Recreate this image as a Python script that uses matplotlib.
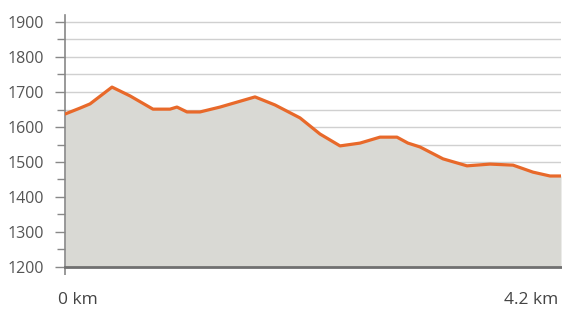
import matplotlib.pyplot as plt
import numpy as np

# elevation profile (km, m)
dist_km = [0.0, 0.127, 0.212, 0.398, 0.550, 0.745, 0.889, 0.948, 1.033, 1.143,
           1.313, 1.609, 1.778, 1.990, 2.159, 2.329, 2.498, 2.667, 2.811, 2.904,
           3.006, 3.201, 3.404, 3.599, 3.794, 3.963, 4.107, 4.2]
elev_m = [1637, 1654, 1666, 1714, 1689, 1651, 1651, 1657, 1643, 1643,
          1657, 1686, 1663, 1626, 1580, 1546, 1554, 1571, 1571, 1554,
          1543, 1509, 1489, 1494, 1491, 1471, 1460, 1460]
y_ticks = [1200, 1300, 1400, 1500, 1600, 1700, 1800, 1900]
x_labels = ['0 km', '4.2 km']

plt.rcParams['font.family'] = ['Open Sans', 'DejaVu Sans']

fig = plt.figure(figsize=(5.62, 3.09), dpi=100)
ax = fig.add_axes([65 / 562, 1 - 267 / 309, 496 / 562, 252 / 309])

ax.fill_between(dist_km, elev_m, 1200, color='#d9d9d4', zorder=2, lw=0)
ax.plot(dist_km, elev_m, color='#e8692a', lw=2.3, zorder=3,
        solid_joinstyle='round', solid_capstyle='round')

ax.set_xlim(0, 4.2)
ax.set_ylim(1200, 1920)

ax.set_yticks(y_ticks)
ax.set_yticks(np.arange(1250, 1900, 100), minor=True)
for v in np.arange(1250, 1901, 50):
    ax.axhline(v, color='#d0d0d0', lw=1.0, zorder=1)

ax.tick_params(axis='y', which='major', direction='out', color='#888888',
               length=7, width=1, labelsize=11.5, labelcolor='#555555', pad=8)
ax.tick_params(axis='y', which='minor', direction='out', color='#888888',
               length=5.5, width=1)
ax.set_xticks([0])
ax.set_xticklabels([''])
ax.tick_params(axis='x', direction='out', color='#888888', length=6, width=1.2)

for s in ['top', 'right']:
    ax.spines[s].set_visible(False)
ax.spines['left'].set_color('#888888')
ax.spines['left'].set_linewidth(1.2)
ax.spines['bottom'].set_color('#707070')
ax.spines['bottom'].set_linewidth(2)
ax.spines['bottom'].set_zorder(4)

ax.text(-7 / 496, -0.1, x_labels[0], transform=ax.transAxes, ha='left', va='top',
        fontsize=12.5, color='#444444')
ax.text(0.995, -0.1, x_labels[1], transform=ax.transAxes, ha='right', va='top',
        fontsize=12.5, color='#444444')

fig.savefig('out.png', dpi=100)
